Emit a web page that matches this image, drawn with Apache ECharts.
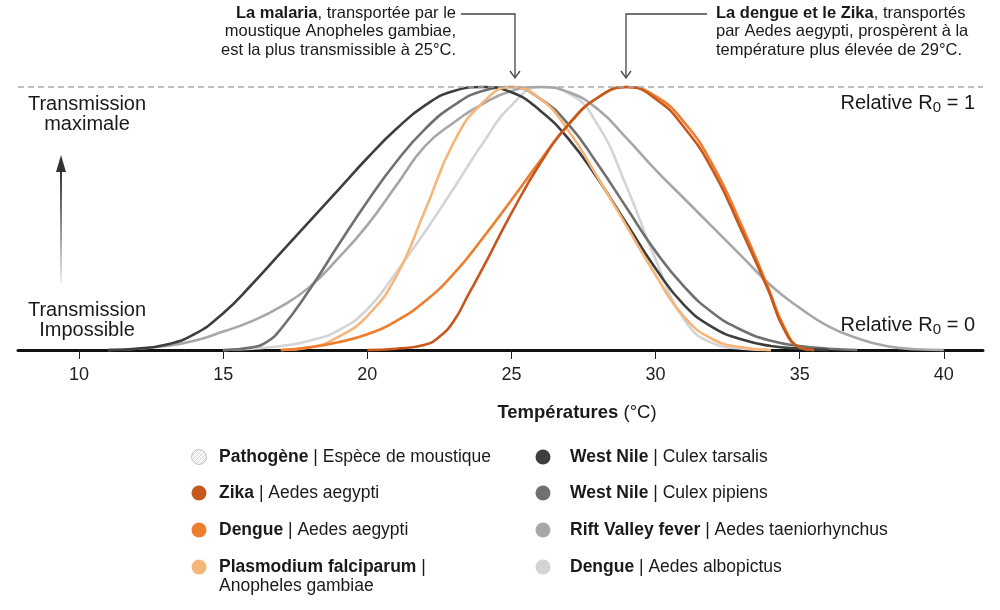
<!DOCTYPE html>
<html>
<head>
<meta charset="utf-8">
<script src="https://cdn.jsdelivr.net/npm/echarts@6/dist/echarts.min.js"></script>
<style>
html,body{margin:0;padding:0;background:#fff;}
#chart{width:1000px;height:610px;}
</style>
</head>
<body>
<div id="chart"></div>
<script>
// ---------- DATA ----------
const tickValues = [10, 15, 20, 25, 30, 35, 40];

const pathogens  = ['Zika', 'Dengue', 'Plasmodium falciparum', 'West Nile', 'West Nile', 'Rift Valley fever', 'Dengue'];
const mosquitoes = ['Aedes aegypti', 'Aedes aegypti', 'Anopheles gambiae', 'Culex tarsalis', 'Culex pipiens', 'Aedes taeniorhynchus', 'Aedes albopictus'];
const colors     = ['#c5581d', '#ee7d2d', '#f6b679', '#3e3e3e', '#707070', '#a7a7a7', '#d3d4d6'];

// [temperature °C, relative R0]
const zika = [[20,0],[21,0.005],[22,0.02],[22.5,0.05],[23,0.11],[23.5,0.21],[24,0.31],[25,0.52],[26,0.71],[27,0.86],[28,0.96],[29,1.0],[30,0.955],[31,0.845],[32,0.68],[33,0.45],[33.9,0.23],[34.45,0.08],[35,0.01],[35.5,0]];
const dengueAegypti = [[17,0],[18,0.01],[19,0.03],[20,0.06],[21,0.11],[22,0.185],[23,0.29],[24,0.425],[25,0.57],[26,0.72],[27,0.86],[28,0.96],[29,1.0],[30,0.965],[31,0.865],[32,0.70],[33,0.47],[33.9,0.24],[34.45,0.09],[35,0.01],[35.5,0]];
const plasmodium = [[17,0],[18,0.01],[19,0.05],[20,0.13],[21,0.28],[22,0.53],[23,0.79],[24,0.94],[25,1.0],[26,0.955],[27,0.83],[28,0.655],[29,0.47],[30,0.285],[31,0.125],[32,0.04],[33,0.01],[34,0]];
const westNileTarsalis = [[11,0],[12,0.005],[13,0.02],[14,0.06],[15,0.14],[16,0.25],[17,0.37],[18,0.49],[19,0.61],[20,0.73],[21,0.84],[22,0.93],[23,0.985],[24,1.0],[25,0.98],[26,0.91],[27,0.80],[28,0.65],[29,0.48],[30,0.31],[31,0.17],[32,0.085],[33,0.04],[34,0.015],[35,0.005],[36,0]];
const westNilePipiens = [[15,0],[16,0.01],[16.5,0.03],[17,0.08],[18,0.23],[19,0.40],[20,0.565],[21,0.715],[22,0.84],[23,0.93],[24,0.985],[25,1.0],[26,0.955],[27,0.855],[28,0.705],[29,0.54],[30,0.375],[31,0.24],[32,0.14],[33,0.075],[34,0.035],[35,0.015],[36,0.005],[37,0]];
const riftValley = [[11,0],[12,0.005],[13,0.015],[14,0.035],[15,0.07],[16,0.11],[17,0.165],[18,0.24],[19,0.35],[20,0.475],[21,0.625],[22,0.775],[23,0.865],[24,0.935],[25,0.985],[26,1.0],[27,0.98],[28,0.915],[29,0.805],[30,0.685],[31,0.575],[32,0.465],[33,0.355],[34,0.245],[35,0.16],[36,0.09],[37,0.045],[38,0.015],[39,0.003],[40,0]];
const dengueAlbopictus = [[15,0],[16,0.005],[17,0.015],[18,0.035],[19,0.075],[20,0.155],[21,0.295],[22,0.45],[23,0.615],[24,0.785],[25,0.93],[26,1.0],[27,0.975],[28,0.855],[29,0.62],[30,0.345],[31,0.115],[32,0.025],[33,0.005],[34,0]];

const seriesData = [zika, dengueAegypti, plasmodium, westNileTarsalis, westNilePipiens, riftValley, dengueAlbopictus];
const drawOrder = [6, 5, 4, 3, 2, 1, 0];

// ---------- CHART ----------
const FONT = "'Liberation Sans', Arial, Helvetica, sans-serif";
const TXT = '#1a1a1a';

const chart = echarts.init(document.getElementById('chart'), null, {renderer: 'canvas'});

const series = drawOrder.map(function (i) {
  return {
    type: 'line',
    name: pathogens[i] + ' | ' + mosquitoes[i],
    data: seriesData[i],
    smooth: 0.5,
    symbol: 'none',
    clip: false,
    lineStyle: {color: colors[i], width: 2.6},
    z: 3
  };
});
series.push({
  type: 'line', data: [], symbol: 'none', silent: true,
  markLine: {
    silent: true, symbol: 'none', label: {show: false},
    lineStyle: {color: '#a8a8a8', width: 1.5, type: [6, 4]},
    data: [{yAxis: 1}]
  },
  z: 1
});

// hatch pattern for legend header icon
const pc = document.createElement('canvas');
pc.width = 4; pc.height = 4;
const pctx = pc.getContext('2d');
pctx.fillStyle = '#fafafa'; pctx.fillRect(0, 0, 4, 4);
pctx.strokeStyle = '#c8c8c8'; pctx.lineWidth = 0.8;
pctx.beginPath(); pctx.moveTo(0, 4); pctx.lineTo(4, 0); pctx.stroke();

const rich = function (size, family) {
  return {
    b: {fontSize: size, fontFamily: family, fontWeight: 'bold', fill: TXT, lineHeight: size + 2},
    n: {fontSize: size, fontFamily: family, fill: TXT, lineHeight: size + 2}
  };
};

const graphics = [];

// left vertical labels
graphics.push({type: 'text', style: {text: 'Transmission\nmaximale', x: 87, y: 94, align: 'center', verticalAlign: 'top', fontSize: 20, lineHeight: 20, fontFamily: FONT, fill: TXT}});
graphics.push({type: 'text', style: {text: 'Transmission\nImpossible', x: 87, y: 300, align: 'center', verticalAlign: 'top', fontSize: 20, lineHeight: 20, fontFamily: FONT, fill: TXT}});
// arrow
graphics.push({type: 'rect', shape: {x: 60, y: 170, width: 2, height: 113},
  style: {fill: new echarts.graphic.LinearGradient(0, 0, 0, 1, [{offset: 0, color: '#333'}, {offset: 1, color: '#eeeeee'}])}});
graphics.push({type: 'polygon', shape: {points: [[61, 155], [56, 172], [66, 172]]}, style: {fill: '#333'}});

// right labels with subscript
const r0Rich = {
  a: {fontSize: 20, fontFamily: FONT, fill: TXT, lineHeight: 22, verticalAlign: 'top'},
  s: {fontSize: 15, fontFamily: FONT, fill: TXT, lineHeight: 15, verticalAlign: 'bottom'}
};
graphics.push({type: 'text', style: {text: '{a|Relative R}{s|0}{a| = 1}', rich: r0Rich, x: 975, y: 93, align: 'right', verticalAlign: 'top'}});
graphics.push({type: 'text', style: {text: '{a|Relative R}{s|0}{a| = 0}', rich: r0Rich, x: 975, y: 315, align: 'right', verticalAlign: 'top'}});

// annotations
const annRich = {b: {fontSize: 16.5, fontFamily: FONT, fontWeight: 'bold', fill: TXT, lineHeight: 18.5}, n: {fontSize: 16.5, fontFamily: FONT, fill: TXT, lineHeight: 18.5}};
graphics.push({type: 'text', style: {
  text: '{b|La malaria}{n|, transportée par le}\n{n|moustique Anopheles gambiae,}\n{n|est la plus transmissible à 25°C.}',
  rich: annRich, x: 456, y: 4, align: 'right', verticalAlign: 'top'}});
graphics.push({type: 'text', style: {
  text: '{b|La dengue et le Zika}{n|, transportés}\n{n|par Aedes aegypti, prospèrent à la}\n{n|température plus élevée de 29°C.}',
  rich: annRich, x: 716, y: 4, align: 'left', verticalAlign: 'top'}});
const connStyle = {stroke: '#444', lineWidth: 1.3, fill: null};
graphics.push({type: 'polyline', shape: {points: [[461, 14], [515, 14], [515, 78]]}, style: connStyle});
graphics.push({type: 'polyline', shape: {points: [[510, 71], [515, 78], [520, 71]]}, style: connStyle});
graphics.push({type: 'polyline', shape: {points: [[707, 14], [626, 14], [626, 78]]}, style: connStyle});
graphics.push({type: 'polyline', shape: {points: [[621, 71], [626, 78], [631, 71]]}, style: connStyle});

// axis title
graphics.push({type: 'text', style: {
  text: '{b|Températures}{n| (°C)}', rich: rich(18.5, FONT),
  x: 577, y: 413, align: 'center', verticalAlign: 'middle'}});

// legend
const legRich = rich(17.5, FONT);
const colX = [199, 543];
const rowY = [457, 493, 530, 567];
graphics.push({type: 'circle', shape: {cx: colX[0], cy: rowY[0], r: 7.5},
  style: {fill: {image: pc, repeat: 'repeat'}, stroke: '#c4c4c4', lineWidth: 1}});
graphics.push({type: 'text', style: {text: '{b|Pathogène}{n| | Espèce de moustique}', rich: legRich, x: colX[0] + 20, y: rowY[0], verticalAlign: 'middle'}});
pathogens.forEach(function (p, i) {
  const col = i < 3 ? 0 : 1;
  const row = i < 3 ? i + 1 : i - 3;
  const cx = colX[col], cy = rowY[row];
  graphics.push({type: 'circle', shape: {cx: cx, cy: cy, r: 7.5}, style: {fill: colors[i]}});
  const wrap = i === 2;
  const txt = '{b|' + p + '}{n| |' + (wrap ? '}\n{n|' : ' ') + mosquitoes[i] + '}';
  graphics.push({type: 'text', style: {text: txt, rich: legRich, x: cx + (col === 0 ? 20 : 27), y: cy - 9.75, verticalAlign: 'top'}});
});

chart.setOption({
  animation: false,
  backgroundColor: '#fff',
  grid: {left: 18, right: 17, top: 87, bottom: 260},
  xAxis: {
    type: 'value', min: 7.88, max: 41.36,
    splitLine: {show: false},
    axisLine: {lineStyle: {color: '#111', width: 3}},
    axisTick: {show: true, length: 9, lineStyle: {color: '#222', width: 1}, customValues: tickValues},
    axisLabel: {customValues: tickValues, margin: 16, fontSize: 18, fontFamily: FONT, color: '#222'}
  },
  yAxis: {type: 'value', min: 0, max: 1, show: false},
  series: series,
  graphic: {elements: graphics}
});
</script>
</body>
</html>
